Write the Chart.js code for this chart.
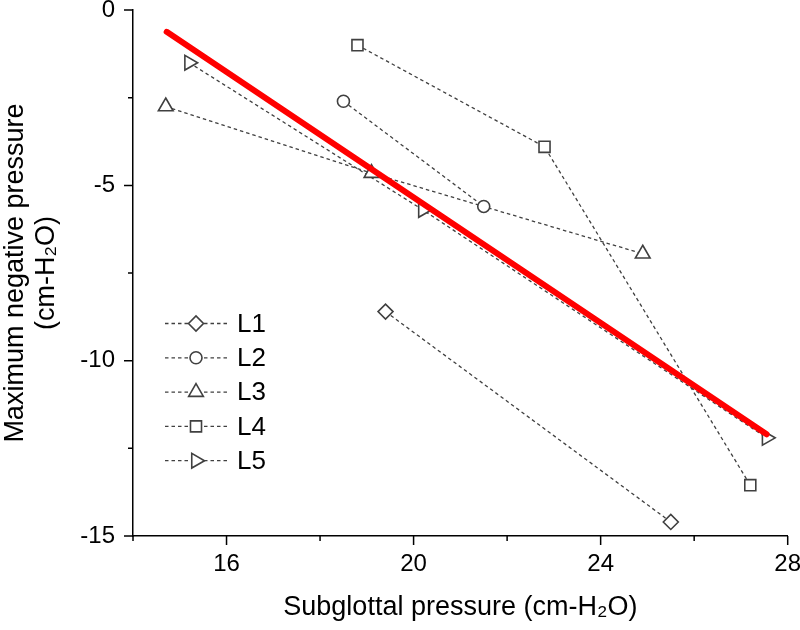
<!DOCTYPE html>
<html>
<head>
<meta charset="utf-8">
<script src="https://cdn.jsdelivr.net/npm/chart.js@4/dist/chart.umd.min.js"></script>
<style>
  html, body { margin: 0; padding: 0; background: #fff; }
  #wrap { width: 800px; height: 630px; }
</style>
</head>
<body>
<div id="wrap"><canvas id="pressureChart" width="800" height="630"></canvas></div>
<script>
// ---- data ----
const seriesNames = ['L1', 'L2', 'L3', 'L4', 'L5'];
const l1X = [19.4, 25.5];
const l1Y = [-8.6, -14.6];
const l2X = [18.5, 21.5];
const l2Y = [-2.6, -5.6];
const l3X = [14.7, 19.1, 24.9];
const l3Y = [-2.75, -4.65, -6.95];
const l4X = [18.8, 22.8, 27.2];
const l4Y = [-1.0, -3.9, -13.55];
const l5X = [15.2, 20.2, 27.55];
const l5Y = [-1.5, -5.7, -12.2];
// linear fit (red)
const fitX = [14.72, 27.55];
const fitY = [-0.62, -12.1];

const xTicks = [16, 20, 24, 28];
const xMinorTicks = [14, 18, 22, 26];
const yTicks = [-15, -10, -5, 0];
const yMinorTicks = [-12.5, -7.5, -2.5];

const FONT = "'Liberation Sans', Arial, sans-serif";
const MARK = '#404040';

function toPoints(xs, ys) {
    return xs.map((x, i) => ({x: x, y: ys[i]}));
}

// marker style per series
const markers = [
    {style: 'rectRot', radius: 7.5, rotation: 0},
    {style: 'circle', radius: 6, rotation: 0},
    {style: 'triangle', radius: 8.5, rotation: 0},
    {style: 'rect', radius: 7.8, rotation: 0},
    {style: 'triangle', radius: 8.5, rotation: 90},
];
const seriesX = [l1X, l2X, l3X, l4X, l5X];
const seriesY = [l1Y, l2Y, l3Y, l4Y, l5Y];

let datasets = seriesNames.map((name, i) => ({
    label: name,
    data: toPoints(seriesX[i], seriesY[i]),
    showLine: true,
    borderColor: MARK,
    borderWidth: 1.3,
    borderDash: [3.5, 3],
    pointStyle: markers[i].style,
    pointRadius: markers[i].radius,
    pointRotation: markers[i].rotation,
    pointBorderColor: MARK,
    pointBorderWidth: 1.6,
    pointBackgroundColor: '#fff',
    order: 1,
}));
datasets.push({
    label: 'fit',
    data: toPoints(fitX, fitY),
    showLine: true,
    borderColor: '#ff0000',
    borderWidth: 6,
    borderCapStyle: 'round',
    pointRadius: 0,
    order: 0,
});

// ---- tick marks (major long, minor short) ----
const tickMarks = {
    id: 'tickMarks',
    afterDraw(chart) {
        const c = chart.ctx;
        const xs = chart.scales.x, ys = chart.scales.y;
        const area = chart.chartArea;
        c.save();
        c.strokeStyle = '#000';
        c.lineWidth = 1.5;
        c.beginPath();
        xTicks.concat(xMinorTicks).forEach(v => {
            const len = xTicks.includes(v) ? 9 : 5;
            const px = xs.getPixelForValue(v);
            c.moveTo(px, area.bottom);
            c.lineTo(px, area.bottom + len);
        });
        yTicks.concat(yMinorTicks).forEach(v => {
            const len = yTicks.includes(v) ? 9 : 5;
            const py = ys.getPixelForValue(v);
            c.moveTo(area.left, py);
            c.lineTo(area.left - len, py);
        });
        c.stroke();
        c.restore();
    }
};

// ---- legend: dashed line with marker in the middle, like the original ----
const lineLegend = {
    id: 'lineLegend',
    afterDraw(chart, args, opts) {
        const c = chart.ctx;
        c.save();
        seriesNames.forEach((name, i) => {
            const y = opts.top + i * opts.rowGap;
            c.strokeStyle = MARK;
            c.lineWidth = 1.3;
            c.setLineDash([3.5, 3]);
            c.beginPath();
            c.moveTo(opts.left, y);
            c.lineTo(opts.left + opts.lineLen, y);
            c.stroke();
            c.setLineDash([]);
            c.lineWidth = 1.6;
            c.fillStyle = '#fff';
            Chart.helpers.drawPoint(c, {
                pointStyle: markers[i].style,
                radius: markers[i].radius,
                rotation: markers[i].rotation,
                borderWidth: 1.6
            }, opts.left + opts.lineLen / 2, y);
            c.fillStyle = '#000';
            c.font = '26px ' + FONT;
            c.textBaseline = 'middle';
            c.textAlign = 'left';
            c.fillText(name, opts.left + opts.lineLen + 10, y + 1);
        });
        c.restore();
    }
};

const ctx = document.getElementById('pressureChart');
const pressureChart = new Chart(ctx, {
    type: 'scatter',
    data: {datasets: datasets},
    options: {
        responsive: false,
        animation: false,
        devicePixelRatio: 1,
        layout: {padding: {top: 9.5, right: 12.3, left: 0, bottom: 0}},
        scales: {
            x: {
                type: 'linear',
                min: 14,
                max: 28,
                afterBuildTicks: s => { s.ticks = xTicks.map(v => ({value: v})); },
                afterFit: s => { s.height = 94; s.paddingLeft = 0; s.paddingRight = 0; },
                grid: {display: false, drawTicks: false},
                border: {display: true, color: '#000', width: 1.5},
                ticks: {color: '#000', padding: 14, font: {family: FONT, size: 24}},
                title: {
                    display: true,
                    text: 'Subglottal pressure (cm-H\u2082O)',
                    color: '#000',
                    font: {family: FONT, size: 27, lineHeight: 1.15},
                    padding: {top: 0, bottom: 7}
                }
            },
            y: {
                type: 'linear',
                min: -15,
                max: 0,
                afterBuildTicks: s => { s.ticks = yTicks.map(v => ({value: v})); },
                afterFit: s => { s.width = 133; s.paddingTop = 0; s.paddingBottom = 0; },
                grid: {display: false, drawTicks: false},
                border: {display: true, color: '#000', width: 1.5},
                ticks: {color: '#000', padding: 18, font: {family: FONT, size: 24}},
                title: {
                    display: true,
                    text: ['Maximum negative pressure', '(cm-H\u2082O)'],
                    color: '#000',
                    font: {family: FONT, size: 27, lineHeight: 1.15},
                    padding: {top: 0, bottom: 0}
                }
            }
        },
        plugins: {
            legend: {display: false},
            tooltip: {enabled: false},
            lineLegend: {left: 165, top: 323.5, rowGap: 34.3, lineLen: 62}
        }
    },
    plugins: [tickMarks, lineLegend]
});
</script>
</body>
</html>
